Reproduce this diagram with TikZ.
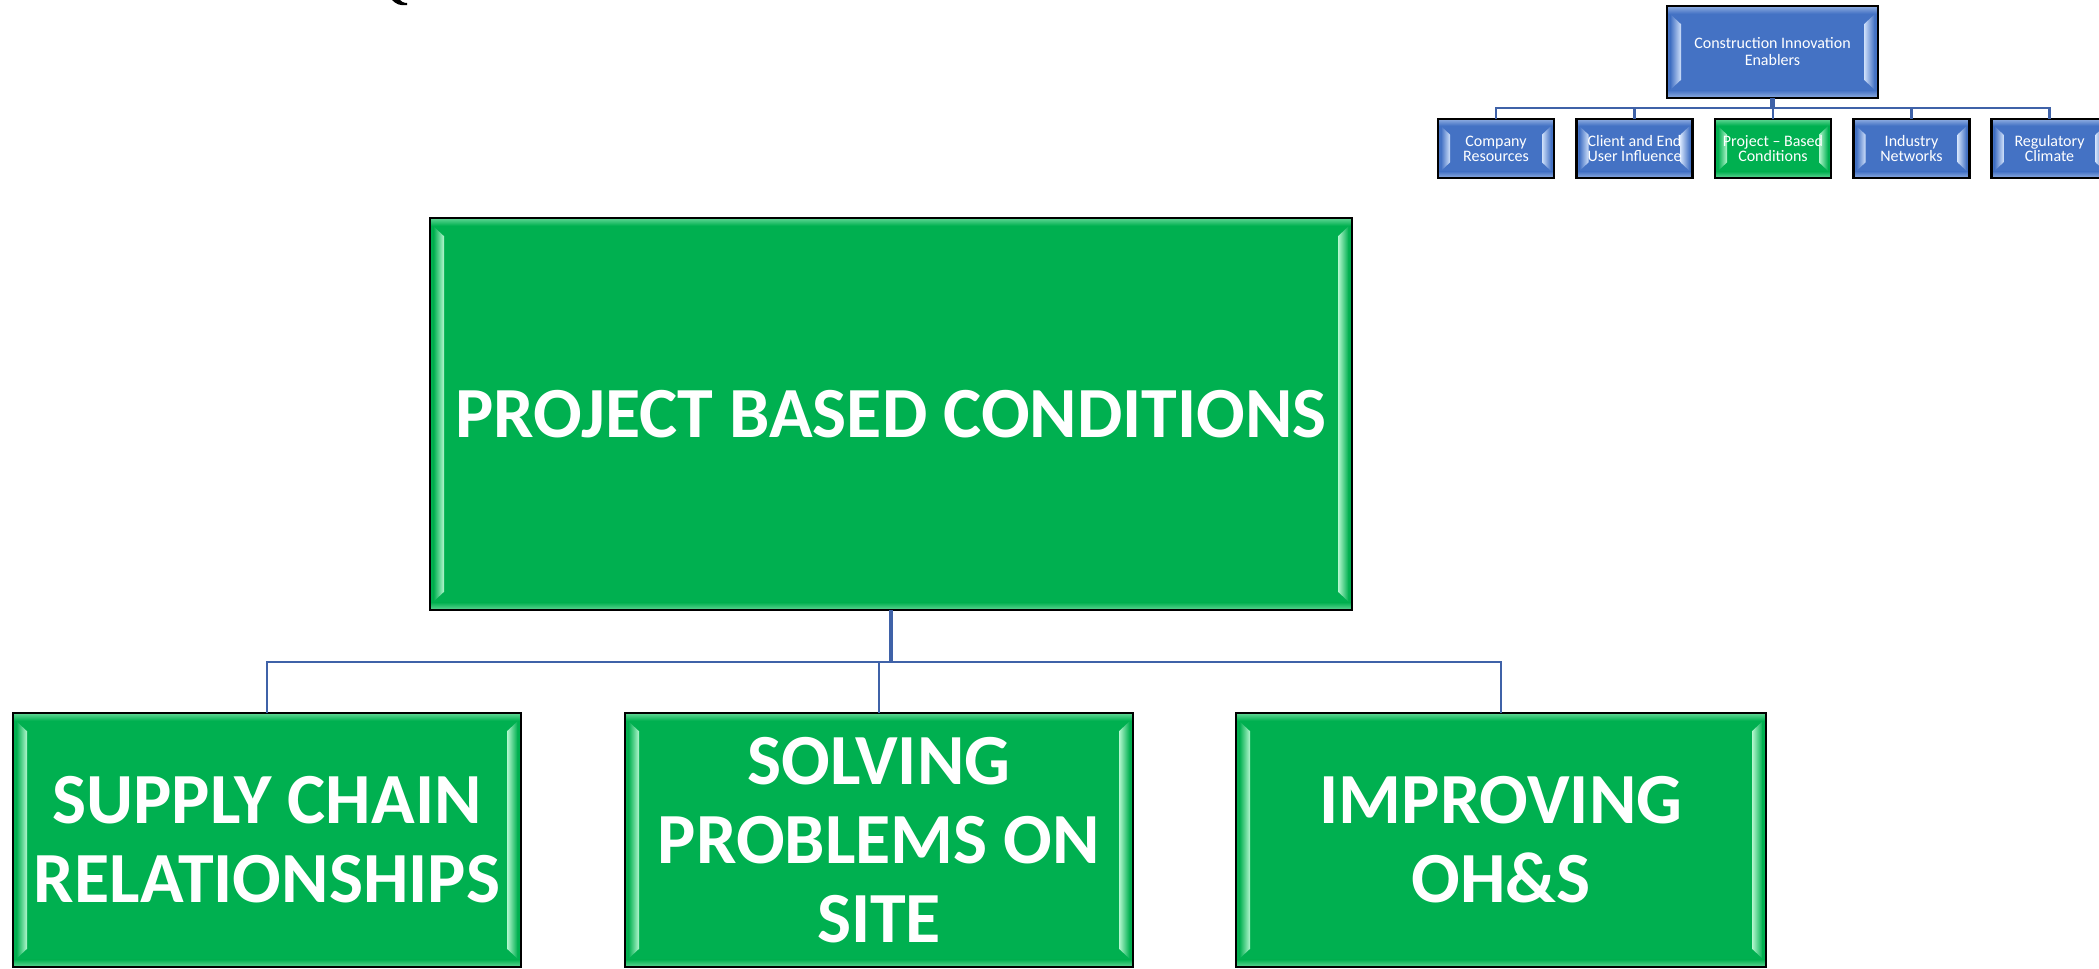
\documentclass[tikz,border=0pt]{standalone}
\usepackage{fontspec}
\setmainfont{Carlito}
\usetikzlibrary{calc}
\definecolor{pgreen}{HTML}{00B050}
\definecolor{pgreenlt}{HTML}{B4F7CF}
\definecolor{pblue}{HTML}{4472C4}
\definecolor{pbluelt}{HTML}{CFE0FA}
\definecolor{connc}{HTML}{3F62A8}
\tikzset{
  bevbox/.style n args={3}{rectangle, fill=#1, draw=black, line width=1.2pt,
    inner sep=0pt, outer sep=0pt, text=white, align=center,
    path picture={
      \coordinate (NW) at (path picture bounding box.north west);
      \coordinate (SE) at (path picture bounding box.south east);
      \shade[top color=#2!55!#1, bottom color=#1] let \p1=(NW),\p2=(SE) in
        (\x1,\y1) rectangle (\x2,\y1-0.55*#3);
      \shade[top color=#1, bottom color=#2!55!#1] let \p1=(NW),\p2=(SE) in
        (\x1,\y2+0.55*#3) rectangle (\x2,\y2);
      \shade[left color=#1, right color=#2] let \p1=(NW),\p2=(SE) in
        (\x1+0.25*#3,\y1-0.6*#3) -- (\x1+#3,\y1-1.3*#3) -- (\x1+#3,\y2+1.3*#3)
        -- (\x1+0.25*#3,\y2+0.6*#3) -- cycle;
      \shade[left color=#2, right color=#1] let \p1=(NW),\p2=(SE) in
        (\x2-0.25*#3,\y1-0.6*#3) -- (\x2-#3,\y1-1.3*#3) -- (\x2-#3,\y2+1.3*#3)
        -- (\x2-0.25*#3,\y2+0.6*#3) -- cycle;
    }},
  greenbox/.style={bevbox={pgreen}{pgreenlt}{7pt}},
  bigtxt/.style={font=\bfseries\fontsize{36}{39.5}\selectfont},
  smallgreen/.style={bevbox={pgreen}{pgreenlt}{6pt}, minimum width=58pt, minimum height=29.5pt,
    font=\fontsize{8}{7.6}\selectfont},
  smallblue/.style={bevbox={pblue}{pbluelt}{6pt}, minimum width=58pt, minimum height=29.5pt,
    font=\fontsize{8}{7.6}\selectfont},
  conn/.style={draw=connc, line width=1.25pt},
  connthick/.style={draw=connc, line width=2.3pt},
}
\begin{document}
\begin{tikzpicture}[x=0.5pt,y=-0.5pt]
\useasboundingbox[fill=white] (0,0) rectangle (2099,969);

% fragment at the top edge
\fill[black] (392,0) .. controls (396,4) and (400,6) .. (407,5) -- (407,3)
  .. controls (403,3) and (401,1) .. (400,0) -- cycle;

% large chart
\node[greenbox, bigtxt, minimum width=461pt, minimum height=196pt] (main) at (891,414)
  {PROJECT BASED CONDITIONS};
\node[greenbox, bigtxt, minimum width=254pt, minimum height=127pt] (c1) at (267,840)
  {SUPPLY CHAIN\\RELATIONSHIPS};
\node[greenbox, bigtxt, minimum width=254pt, minimum height=127pt] (c2) at (879,840)
  {SOLVING\\PROBLEMS ON\\SITE};
\node[greenbox, bigtxt, minimum width=265pt, minimum height=127pt] (c3) at (1501,840)
  {IMPROVING\\OH\&S};

\coordinate (bus) at (0,662);
\draw[connthick] (main.south) -- (main.south |- bus);
\draw[conn] (c1.north) -- (c1.north |- bus) -- (c3.north |- bus) -- (c3.north);
\draw[conn] (c2.north) -- (c2.north |- bus);

% small chart
\node[bevbox={pblue}{pbluelt}{7pt}, minimum width=105.5pt, minimum height=46pt,
  font=\fontsize{8}{8.5}\selectfont] (top) at (1772.5,52)
  {Construction Innovation\\Enablers};
\node[smallblue] (s1) at (1496,148.5) {Company\\Resources};
\node[smallblue] (s2) at (1634.5,148.5) {Client and End\\User Influence};
\node[smallgreen] (s3) at (1773,148.5) {Project -- Based\\Conditions};
\node[smallblue] (s4) at (1911.5,148.5) {Industry\\Networks};
\node[smallblue] (s5) at (2049.5,148.5) {Regulatory\\Climate};

\coordinate (sbus) at (0,108);
\draw[connthick] (top.south) -- (top.south |- sbus);
\draw[conn] (s1.north) -- (s1.north |- sbus) -- (s5.north |- sbus) -- (s5.north);
\draw[conn] (s2.north) -- (s2.north |- sbus);
\draw[conn] (s3.north) -- (s3.north |- sbus);
\draw[conn] (s4.north) -- (s4.north |- sbus);
\end{tikzpicture}
\end{document}
